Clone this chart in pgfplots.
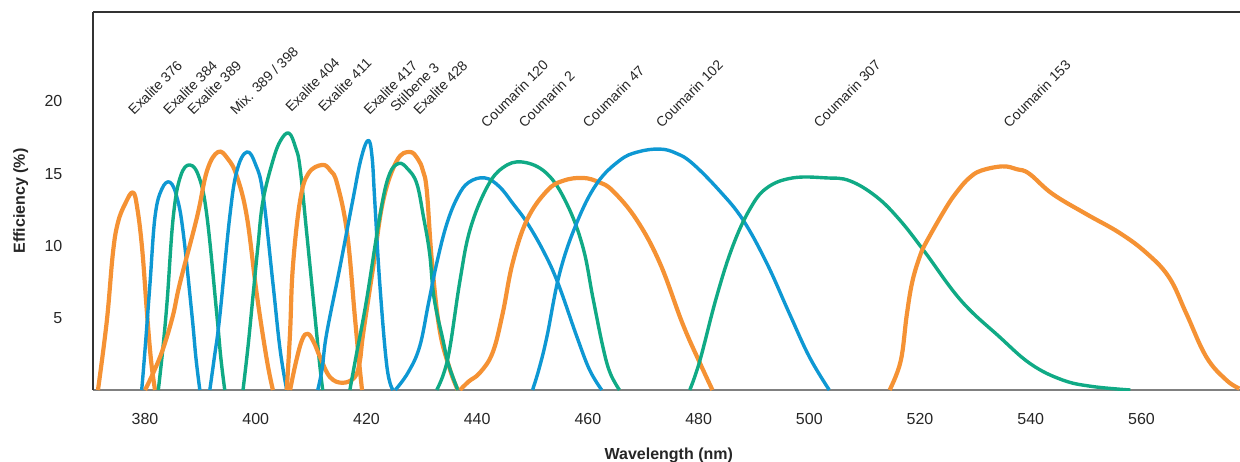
\documentclass[border=0pt]{standalone}
\usepackage{fontspec}
\setmainfont{Liberation Sans}
\usepackage{pgfplots}
\pgfplotsset{compat=1.18}
\definecolor{corange}{RGB}{245,146,52}
\definecolor{cblue}{RGB}{14,152,211}
\definecolor{cgreen}{RGB}{16,170,133}
\tikzset{lab/.style={rotate=45, anchor=base west, inner sep=0pt, font=\fontsize{7}{8}\selectfont, text=black!85}}
\begin{document}
\begin{tikzpicture}
\begin{axis}[
 name=ax,
 scale only axis, width=573.5pt, height=189pt,
 xmin=370.6, xmax=577.8, ymin=0, ymax=26.2,
 xtick={380,400,...,560}, ytick={5,10,15,20},
 major tick length=0pt,
 /pgf/number format/assume math mode=true,
 /pgf/number format/1000 sep={},
 ticklabel style={font=\fontsize{8}{9.6}\selectfont, text=black!85},
 xticklabel style={yshift=-8pt},
 yticklabel style={xshift=-11.8pt},
 axis x line=bottom, axis y line=left,
 x axis line style={-, draw=black!50, line width=1.1pt},
 y axis line style={-, draw=black!80, line width=0.8pt},
 xlabel={Wavelength (nm)}, ylabel={Efficiency (\%)},
 every axis x label/.style={at={(axis description cs:0.502,-0.172)}, anchor=center, font=\bfseries\fontsize{8}{9.6}\selectfont, text=black!85},
 every axis y label/.style={at={(axis description cs:-0.063,0.5)}, anchor=center, rotate=90, font=\bfseries\fontsize{8}{9.6}\selectfont, text=black!85},
 clip=true,
 no markers,
 every axis plot/.append style={smooth, tension=0.65, line join=round},
]
% Exalite 376
\addplot[corange, line width=2.1pt] coordinates {(371.5,0) (373.1,4.8) (374.2,9.5) (375.1,11.6) (376.4,12.9) (377.8,13.7) (378.6,12.6) (379.5,9.7) (380.4,5.1) (381.1,2) (381.8,0)};
% Exalite 384
\addplot[cblue, line width=1.7pt] coordinates {(379.4,0) (380.0,2.8) (380.9,7.4) (381.8,12.0) (383,13.9) (384.5,14.4) (385.8,13.3) (386.9,10.9) (388.5,5.1) (389.2,2.2) (389.9,0)};
% Exalite 389
\addplot[cgreen, line width=1.7pt] coordinates {(382.4,0) (383.2,2.8) (384,6.2) (385.1,12) (386.4,14.8) (388.1,15.6) (389.8,14.7) (391.2,12) (393,5.1) (393.7,2.2) (394.4,0)};
% Mix 389/398 (orange)
\addplot[corange, line width=2.1pt] coordinates {(380,0) (381.5,1.2) (383.2,2.8) (385,5.1) (386.3,7.4) (389.4,12) (391.2,15.2) (393.2,16.5) (395,16) (396.6,14.8) (398.4,12) (400.2,6.6) (402,2.1) (403.1,0)};
% Mix 398 (blue)
\addplot[cblue, line width=1.7pt] coordinates {(391.7,0) (392.5,2.2) (393.5,5.1) (395.3,12) (396.6,15.2) (398.4,16.5) (400,15.6) (401.3,13.6) (403.1,7.4) (404.4,2.8) (405.6,0)};
% Exalite 404
\addplot[cgreen, line width=1.7pt] coordinates {(397.7,0) (398.6,3) (399.5,6.5) (400.4,10) (401.3,13.1) (403.1,15.9) (404.5,17.3) (406,17.8) (407.2,16.8) (408,15.4) (409.2,10.9) (410.7,5.1) (411.6,1.6) (412.1,0)};
% Exalite 411
\addplot[corange, line width=2.1pt] coordinates {(405.6,0) (406.2,4) (406.7,8.5) (408,13.1) (409.5,15) (412,15.6) (413.5,15.2) (414.7,14.3) (416.5,10.9) (417.9,5.1) (418.6,2.2) (419.2,0)};
% Exalite 428
\addplot[corange, line width=2.1pt] coordinates {(406.2,0) (407.3,2) (408.4,3.5) (409.4,3.9) (410.5,3.3) (411.6,2.3) (413.4,0.9) (415.7,0.5) (417.9,0.9) (418.8,2) (419.4,3.9) (421.2,8.5) (423,13.1) (425.5,15.9) (427.8,16.5) (429.3,16) (430.2,15.2) (430.9,13.8) (431.8,9) (433.2,4.2) (435.1,1.4) (436.5,0)};
% Exalite 417
\addplot[cblue, line width=1.7pt] coordinates {(411.2,0) (412,1.5) (412.8,3.9) (415.2,8.5) (417.5,13.1) (419,16) (420.3,17.3) (421,16.2) (421.5,13.1) (422.4,7.4) (423.7,1.6) (424.8,0)};
% Stilbene 3
\addplot[cgreen, line width=1.7pt] coordinates {(417,0) (418.2,2.5) (420,6.2) (422.4,12) (424,14.8) (425.8,15.7) (427.5,15.3) (429.1,14.3) (430.3,12) (431.4,9.5) (432.2,6.4) (433.8,3.5) (434.8,1.8) (436.5,0)};
% Coumarin 120
\addplot[cblue, line width=1.7pt] coordinates {(425.2,0) (427.5,1.2) (429.6,3) (431.2,6) (432.7,8.8) (434.5,11.5) (436.5,13.4) (438.5,14.4) (441.4,14.7) (444,14.1) (446.5,12.9) (449,11.6) (452,9.6) (454.6,7.4) (458,3.7) (460.3,1.4) (462.5,0)};
% Coumarin 2
\addplot[cgreen, line width=1.7pt] coordinates {(432.7,0) (434,1.2) (435.1,3) (436.9,7.6) (438.7,11.1) (441.7,14) (444.6,15.4) (448.2,15.8) (452.6,15) (456.2,12.9) (459.1,9.9) (460.9,6.4) (462.7,3) (464,1.2) (465.7,0)};
% Coumarin 47
\addplot[corange, line width=2.1pt] coordinates {(436.9,0) (438.5,0.6) (440.5,1.2) (442.8,2.6) (444.6,5.3) (446.4,8.8) (449,11.8) (452.6,13.8) (455.5,14.5) (459.1,14.7) (462,14.4) (464.5,13.8) (468.8,11.8) (473,8.8) (477.1,4.6) (480.2,1.9) (482.5,0)};
% Coumarin 102
\addplot[cblue, line width=1.7pt] coordinates {(450,0) (451.2,1.5) (452.6,3.7) (454.9,8.1) (458,11.6) (461.6,14.3) (465.7,15.9) (469,16.5) (473,16.7) (476,16.4) (478.9,15.7) (483.8,13.8) (488,11.8) (492.3,8.8) (496.4,5.3) (500,2.3) (503.6,0)};
% Coumarin 307
\addplot[cgreen, line width=1.7pt] coordinates {(478.4,0) (480.2,2) (483.2,6.4) (486.1,9.9) (489.2,12.5) (492.3,14) (497,14.7) (503.1,14.7) (507.3,14.5) (512.1,13.4) (516.3,11.8) (520.8,9.6) (527.4,6.2) (534.3,3.7) (540,1.8) (545.7,0.7) (551,0.25) (558,0)};
% Coumarin 153
\addplot[corange, line width=2.1pt] coordinates {(514.5,0) (516.5,2) (517.6,5.2) (518.6,7.5) (520,9.3) (521.2,10.3) (524.8,12.7) (527,13.9) (528.9,14.7) (531,15.2) (534.9,15.5) (537.5,15.3) (539.7,15) (543.9,13.6) (550,12.2) (556,10.9) (560.9,9.5) (565,7.8) (568.1,5.3) (571.7,2.3) (575.3,0.7) (577.7,0.1)};

\draw[black!80, line width=0.8pt] (rel axis cs:0,1) -- (rel axis cs:1,1);

\node[lab] at (axis cs:378.0,19.0) {Exalite 376};
\node[lab] at (axis cs:384.3,19.0) {Exalite 384};
\node[lab] at (axis cs:388.7,19.0) {Exalite 389};
\node[lab] at (axis cs:396.4,19.0) {Mix. 389 / 398};
\node[lab] at (axis cs:406.4,19.2) {Exalite 404};
\node[lab] at (axis cs:412.3,19.2) {Exalite 411};
\node[lab] at (axis cs:420.5,19.0) {Exalite 417};
\node[lab] at (axis cs:425.3,19.2) {Stilbene 3};
\node[lab] at (axis cs:429.5,19.0) {Exalite 428};
\node[lab] at (axis cs:441.7,18.1) {Coumarin 120};
\node[lab] at (axis cs:448.5,18.1) {Coumarin 2};
\node[lab] at (axis cs:460.1,18.1) {Coumarin 47};
\node[lab] at (axis cs:473.3,18.1) {Coumarin 102};
\node[lab] at (axis cs:501.8,18.1) {Coumarin 307};
\node[lab] at (axis cs:536.1,18.1) {Coumarin 153};
\end{axis}
\pgfresetboundingbox
\path[use as bounding box] ([xshift=-46.5pt,yshift=-35.5pt]ax.south west) rectangle ([yshift=6pt]ax.north east);
\end{tikzpicture}
\end{document}
